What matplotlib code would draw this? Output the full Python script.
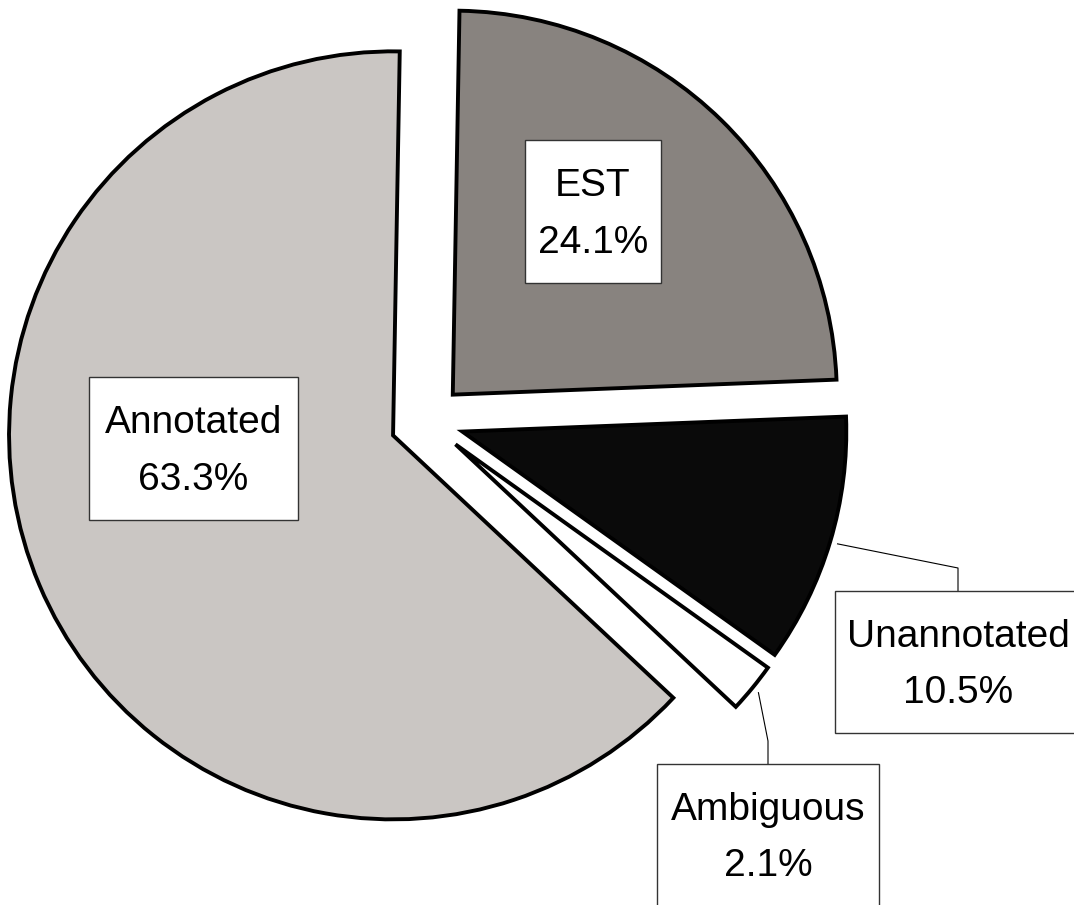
import matplotlib
matplotlib.use("Agg")
import matplotlib.pyplot as plt
import numpy as np
from matplotlib.patches import Rectangle

plt.rcParams["font.family"] = ["Liberation Sans", "DejaVu Sans"]

# data
categories = ["EST", "Unannotated", "Ambiguous", "Annotated"]
shares = [24.1, 10.5, 2.1, 63.3]
colors = ["#88837f", "#0a0a0a", "#ffffff", "#cac6c3"]

# layout (pixels of the 1074x905 output)
W, H = 1074, 905
R = 384.0            # pie radius in px
CX, CY = 427, 421    # pie centre in image px
# label boxes: centre x, centre y, width, height (image px)
boxes = {
    "EST": (593, 211.5, 136, 143),
    "Annotated": (193.5, 448.5, 209, 143),
    "Unannotated": (958, 662, 246, 142),
    "Ambiguous": (768, 835, 222, 142),
}
leaders = ["Unannotated", "Ambiguous"]


def to_data(x, y):
    return (x - CX) / R, (CY - y) / R


fig = plt.figure(figsize=(W / 100, H / 100), dpi=100)
ax = fig.add_axes([0, 0, 1, 1])

wedges, _ = ax.pie(
    shares,
    colors=colors,
    startangle=89,
    counterclock=False,
    explode=[0.096] * len(shares),
    wedgeprops=dict(edgecolor="black", linewidth=2.8, joinstyle="miter"),
)

for name, pct, w in zip(categories, shares, wedges):
    bx, by, bw, bh = boxes[name]
    cx, cy = to_data(bx, by)
    ax.add_patch(Rectangle((cx - bw / 2 / R, cy - bh / 2 / R), bw / R, bh / R,
                           facecolor="white", edgecolor="#333333", lw=1.0, zorder=3))
    ax.text(cx, cy + 15.5 / R, name, ha="center", va="baseline", fontsize=28, zorder=4)
    ax.text(cx, cy - 41 / R, f"{pct:.1f}%", ha="center", va="baseline", fontsize=28, zorder=4)

    if name in leaders:
        mid = np.deg2rad((w.theta1 + w.theta2) / 2)
        sx = w.center[0] + 1.02 * np.cos(mid)
        sy = w.center[1] + 1.02 * np.sin(mid)
        top = cy + bh / 2 / R
        ax.plot([sx, cx, cx], [sy, top + 23 / R, top], color="black", lw=0.8, zorder=2)

ax.set_xlim(-CX / R, (W - CX) / R)
ax.set_ylim(-(H - CY) / R, CY / R)
ax.set_aspect("equal")
ax.axis("off")

fig.savefig("out.png", dpi=100, facecolor="white")
